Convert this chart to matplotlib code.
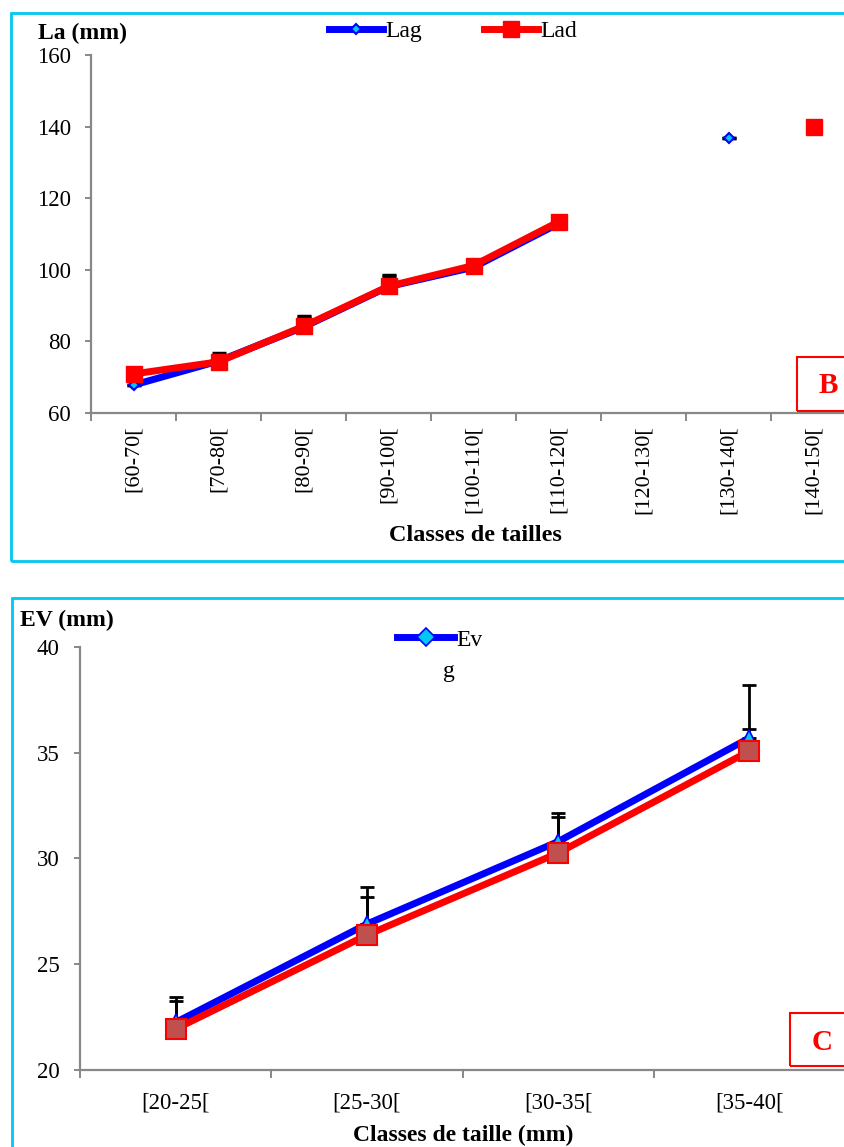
import matplotlib
matplotlib.use("Agg")
import matplotlib.pyplot as plt
from matplotlib.patches import Rectangle
import numpy as np

plt.rcParams['font.family'] = ['Liberation Serif', 'DejaVu Serif']

# Panel B : La (mm) by size class
classes_b = ["[60-70[", "[70-80[", "[80-90[", "[90-100[", "[100-110[",
             "[110-120[", "[120-130[", "[130-140[", "[140-150["]
lag = [67.8, 74.5, 84.0, 95.3, 100.7, 112.9, np.nan, 136.8, np.nan]
lad = [70.9, 74.3, 84.2, 95.4, 101.2, 113.4, np.nan, np.nan, 139.9]
lag_err = [0, 2.2, 3.0, 3.2, 1.4, 1.6, 0, 0, 0]
lad_err = [0, 1.8, 2.6, 2.8, 1.2, 1.4, 0, 0, 0]

# Panel C : EV (mm) by size class
classes_c = ["[20-25[", "[25-30[", "[30-35[", "[35-40["]
evg = [22.25, 26.9, 30.8, 35.7]
evd = [21.94, 26.38, 30.26, 35.08]
evg_err = [1.2, 1.75, 1.35, 2.5]
evd_err = [1.32, 1.8, 1.7, 1.02]

W, H = 844, 1147
fig = plt.figure(figsize=(W / 100, H / 100), dpi=100)

cyan = '#00C8F0'
grey = '#888888'


def fx(px):
    return px / W


def fy(py):
    return 1 - py / H


def style_axes(ax):
    for s in ['top', 'right']:
        ax.spines[s].set_visible(False)
    for s in ['left', 'bottom']:
        ax.spines[s].set_color(grey)
        ax.spines[s].set_linewidth(1.6)
    ax.tick_params(axis='y', which='major', direction='out', length=4.5,
                   width=1.4, color=grey, pad=10, labelsize=16.5)
    ax.tick_params(axis='x', which='major', length=0)
    ax.tick_params(axis='x', which='minor', direction='out', length=5.5,
                   width=1.4, color=grey)


# frames round each panel
fig.patches.append(Rectangle((fx(11), fy(561)), 1.2, fy(13) - fy(561),
                             transform=fig.transFigure, fill=False,
                             edgecolor=cyan, lw=2))
fig.patches.append(Rectangle((fx(12), -0.2), 1.2, fy(598) + 0.2,
                             transform=fig.transFigure, fill=False,
                             edgecolor=cyan, lw=2))

# ---- panel B ----
axb = fig.add_axes([fx(91), fy(413), 765 / W, (413 - 55) / H])
xb = np.arange(len(classes_b))
axb.errorbar(xb, lag, yerr=[np.zeros(len(xb)), lag_err], fmt='none',
             ecolor='black', elinewidth=2, capsize=5, capthick=2.5, zorder=2)
axb.errorbar(xb, lad, yerr=[np.zeros(len(xb)), lad_err], fmt='none',
             ecolor='black', elinewidth=2, capsize=5, capthick=2.5, zorder=2)
axb.plot(xb, lag, color='#0000FF', lw=5, marker='D', ms=5,
         mfc='#00C8F0', mec='#0000FF', mew=1.5, label='Lag', zorder=3)
axb.plot(xb, lad, color='#FF0000', lw=5, marker='s', ms=11,
         mfc='#FF0000', mec='#FF0000', label='Lad', zorder=4)
axb.set_xlim(-0.5, len(classes_b) - 0.5)
axb.set_ylim(60, 160)
axb.set_yticks(np.arange(60, 161, 20))
axb.set_xticks(xb)
axb.set_xticklabels(classes_b, rotation=90, fontsize=16)
axb.set_xticks(np.arange(-0.5, len(classes_b)), minor=True)
style_axes(axb)
axb.tick_params(axis='x', which='major', pad=9)
axb.legend(loc='center', bbox_to_anchor=(fx(453), fy(31)),
           bbox_transform=fig.transFigure, ncol=2, frameon=False,
           fontsize=17, handlelength=2.3, columnspacing=2.6,
           handletextpad=0.1)

fig.text(fx(38), fy(33), 'La (mm)', fontsize=17, fontweight='bold',
         ha='left', va='center')
fig.text(fx(475), fy(535), 'Classes de tailles', fontsize=17.5,
         fontweight='bold', ha='center', va='center')

fig.patches.append(Rectangle((fx(797), fy(411)), 0.2, fy(357) - fy(411),
                             transform=fig.transFigure, fill=False,
                             edgecolor='#FF0000', lw=1.5, zorder=5))
fig.text(fx(828), fy(386), 'B', color='#FF0000', fontsize=21,
         fontweight='bold', ha='center', va='center')

# ---- panel C ----
axc = fig.add_axes([fx(80), fy(1070), 765 / W, (1070 - 647) / H])
xc = np.arange(len(classes_c))
axc.errorbar(xc, evg, yerr=[np.zeros(len(xc)), evg_err], fmt='none',
             ecolor='black', elinewidth=2, capsize=5, capthick=2, zorder=2)
axc.errorbar(xc, evd, yerr=[np.zeros(len(xc)), evd_err], fmt='none',
             ecolor='black', elinewidth=2, capsize=5, capthick=2, zorder=2)
axc.plot(xc, evg, color='#0000FF', lw=5, marker='^', ms=12,
         mfc='#00C8F0', mec='#0000FF', mew=1.2, label='Ev', zorder=3)
axc.plot(xc, evd, color='#FF0000', lw=5, marker='s', ms=14,
         mfc='#C0504D', mec='#FF0000', mew=1.5, zorder=4)
axc.set_xlim(-0.5, len(classes_c) - 0.5)
axc.set_ylim(20, 40)
axc.set_yticks(np.arange(20, 41, 5))
axc.set_xticks(xc)
axc.set_xticklabels(classes_c, fontsize=16.5)
axc.set_xticks(np.arange(-0.5, len(classes_c)), minor=True)
style_axes(axc)
axc.tick_params(axis='x', which='major', pad=16)
leg = axc.legend(loc='center left', bbox_to_anchor=(fx(376), fy(640)),
                 bbox_transform=fig.transFigure, frameon=False, fontsize=17,
                 handlelength=2.4, handletextpad=0.1)
# the legend entry wraps onto a second line in the original
leg.get_lines()[0].set_marker('D')
leg.get_lines()[0].set_markersize(9)
fig.text(fx(443), fy(672), 'g', fontsize=17, ha='left', va='center')

fig.text(fx(20), fy(620), 'EV (mm)', fontsize=17, fontweight='bold',
         ha='left', va='center')
fig.text(fx(463), fy(1135), 'Classes de taille (mm)', fontsize=17,
         fontweight='bold', ha='center', va='center')

fig.patches.append(Rectangle((fx(790), fy(1066)), 0.2, fy(1013) - fy(1066),
                             transform=fig.transFigure, fill=False,
                             edgecolor='#FF0000', lw=1.5, zorder=5))
fig.text(fx(822), fy(1042), 'C', color='#FF0000', fontsize=21,
         fontweight='bold', ha='center', va='center')

fig.savefig('out.png', dpi=100)
